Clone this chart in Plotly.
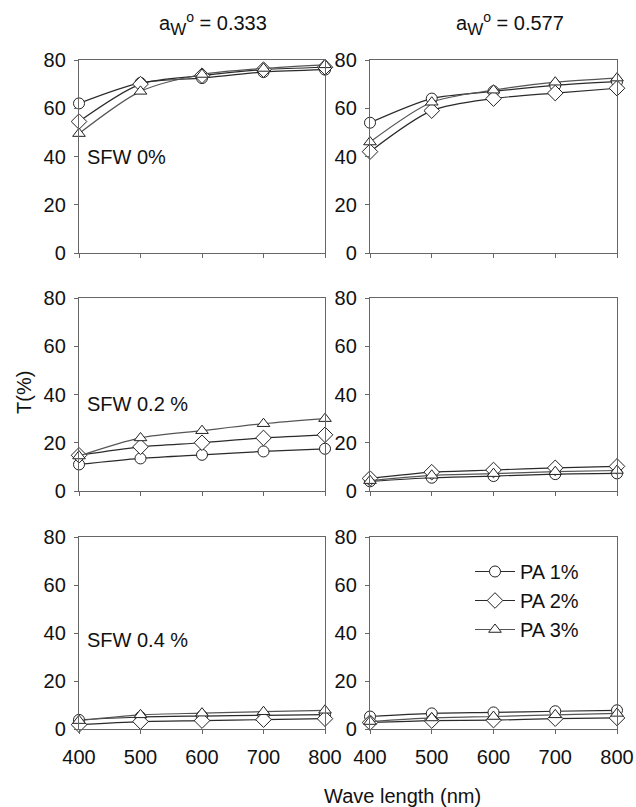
import plotly.graph_objects as go
from plotly.subplots import make_subplots

W, H = 636, 807

wavelength = [400, 500, 600, 700, 800]
series_names = ["PA 1%", "PA 2%", "PA 3%"]
symbols = ["circle", "diamond", "triangle-up"]

# aW = 0.333
aw333_sfw0_pa1 = [62, 70.5, 72.5, 75, 76]
aw333_sfw0_pa2 = [54.5, 70, 73.5, 76, 77]
aw333_sfw0_pa3 = [49.5, 67, 74, 76.5, 78]
aw333_sfw02_pa1 = [11, 13.5, 15, 16.4, 17.5]
aw333_sfw02_pa2 = [14.8, 18.3, 20, 22, 23.3]
aw333_sfw02_pa3 = [14.5, 22, 25, 27.9, 30]
aw333_sfw04_pa1 = [3.8, 5, 5.4, 5.7, 6]
aw333_sfw04_pa2 = [1.8, 3.1, 3.5, 3.9, 4.3]
aw333_sfw04_pa3 = [3.5, 5.9, 6.6, 7.2, 7.8]
# aW = 0.577
aw577_sfw0_pa1 = [54, 64, 67, 69.5, 71]
aw577_sfw0_pa2 = [42, 59, 64, 66.3, 68.3]
aw577_sfw0_pa3 = [46, 62.5, 67.5, 70.8, 72.5]
aw577_sfw02_pa1 = [4, 5.5, 6.2, 7, 7.3]
aw577_sfw02_pa2 = [5.2, 7.8, 8.7, 9.6, 10.2]
aw577_sfw02_pa3 = [4.3, 6.5, 7.2, 8, 8.5]
aw577_sfw04_pa1 = [5.2, 6.5, 6.9, 7.4, 7.8]
aw577_sfw04_pa2 = [2.7, 3.5, 3.7, 4.3, 4.6]
aw577_sfw04_pa3 = [3.1, 4.6, 5.2, 5.9, 6.5]

col_titles = ["a<sub><span style='font-size:17px'>W</span></sub><sup>o</sup> = 0.333",
              "a<sub><span style='font-size:17px'>W</span></sub><sup>o</sup> = 0.577"]
row_labels = ["SFW 0%", "SFW 0.2 %", "SFW 0.4 %"]
y_ticks = [0, 20, 40, 60, 80]
x_ticks = [400, 500, 600, 700, 800]

panels = {
    (1, 1): [aw333_sfw0_pa1, aw333_sfw0_pa2, aw333_sfw0_pa3],
    (1, 2): [aw577_sfw0_pa1, aw577_sfw0_pa2, aw577_sfw0_pa3],
    (2, 1): [aw333_sfw02_pa1, aw333_sfw02_pa2, aw333_sfw02_pa3],
    (2, 2): [aw577_sfw02_pa1, aw577_sfw02_pa2, aw577_sfw02_pa3],
    (3, 1): [aw333_sfw04_pa1, aw333_sfw04_pa2, aw333_sfw04_pa3],
    (3, 2): [aw577_sfw04_pa1, aw577_sfw04_pa2, aw577_sfw04_pa3],
}

FONT = "Liberation Sans, Arial, sans-serif"
FS = 20
fig = make_subplots(rows=3, cols=2)


def px_x(p):
    return p / W


def px_y(p):
    return 1 - p / H


line_colors = ["#2a2a2a", "#2a2a2a", "#555555"]
for (r, c), data in panels.items():
    for i, ys in enumerate(data):
        fig.add_trace(
            go.Scatter(
                x=wavelength, y=ys, mode="lines+markers", name=series_names[i],
                line=dict(color=line_colors[i], width=1.2, shape="spline", smoothing=0.8),
                marker=dict(symbol=symbols[i], size=11 if i != 1 else 12, color="white",
                            line=dict(color="#222222", width=1)),
                cliponaxis=False,
                showlegend=(r == 3 and c == 2),
                legendrank=i,
            ),
            row=r, col=c,
        )

x_dom = [(px_x(79), px_x(325)), (px_x(370), px_x(617))]
y_px = [(60, 253), (298, 491), (537, 729)]
for r in range(1, 4):
    for c in range(1, 3):
        top, bot = y_px[r - 1]
        fig.update_xaxes(
            domain=list(x_dom[c - 1]), range=[400, 800], tickvals=x_ticks,
            showticklabels=(r == 3), ticks="outside", ticklen=4, tickcolor="#666",
            showline=True, linecolor="#666", linewidth=1.3, mirror=True,
            showgrid=False, zeroline=False, ticklabelstandoff=6, automargin=False,
            tickfont=dict(size=FS, color="#111", family=FONT),
            row=r, col=c,
        )
        fig.update_yaxes(
            domain=[px_y(bot), px_y(top)], range=[0, 80], tickvals=y_ticks,
            ticks="outside", ticklen=4, tickcolor="#666",
            showline=True, linecolor="#666", linewidth=1.3, mirror=True,
            showgrid=False, zeroline=False, automargin=False, ticklabelstandoff=4,
            tickfont=dict(size=FS, color="#111", family=FONT),
            row=r, col=c,
        )

annotations = []
for c, t in enumerate(col_titles):
    cx = [213, 510][c]
    annotations.append(dict(text=t, x=px_x(cx), y=px_y(24), xref="paper", yref="paper",
                            showarrow=False, xanchor="center", yanchor="middle",
                            font=dict(size=FS, color="#111", family=FONT)))
for r, lab in enumerate(row_labels):
    yref = "y" if r == 0 else f"y{2 * r + 1}"
    xref = "x" if r == 0 else f"x{2 * r + 1}"
    annotations.append(dict(text=lab, x=410, y=[40, 36, 37][r], xref=xref, yref=yref,
                            showarrow=False, xanchor="left", yanchor="middle",
                            font=dict(size=FS, color="#111", family=FONT)))
annotations.append(dict(text="T(%)", x=px_x(24), y=px_y(393), xref="paper", yref="paper",
                        showarrow=False, textangle=-90, xanchor="center", yanchor="middle",
                        font=dict(size=FS, color="#111", family=FONT)))
annotations.append(dict(text="Wave length (nm)", x=px_x(402), y=px_y(796), xref="paper", yref="paper",
                        showarrow=False, xanchor="center", yanchor="middle",
                        font=dict(size=FS, color="#111", family=FONT)))

fig.update_layout(
    width=W, height=H, margin=dict(l=0, r=0, t=0, b=0),
    paper_bgcolor="white", plot_bgcolor="white",
    annotations=annotations,
    showlegend=True,
    hovermode=False,
    legend=dict(x=px_x(470), y=px_y(552), xanchor="left", yanchor="top",
                bgcolor="rgba(0,0,0,0)", font=dict(size=FS, color="#111", family=FONT),
                tracegroupgap=0, itemwidth=40),
)

fig.write_html("out.html", config={"displayModeBar": False},
               post_script="document.body.style.margin='0px';")
